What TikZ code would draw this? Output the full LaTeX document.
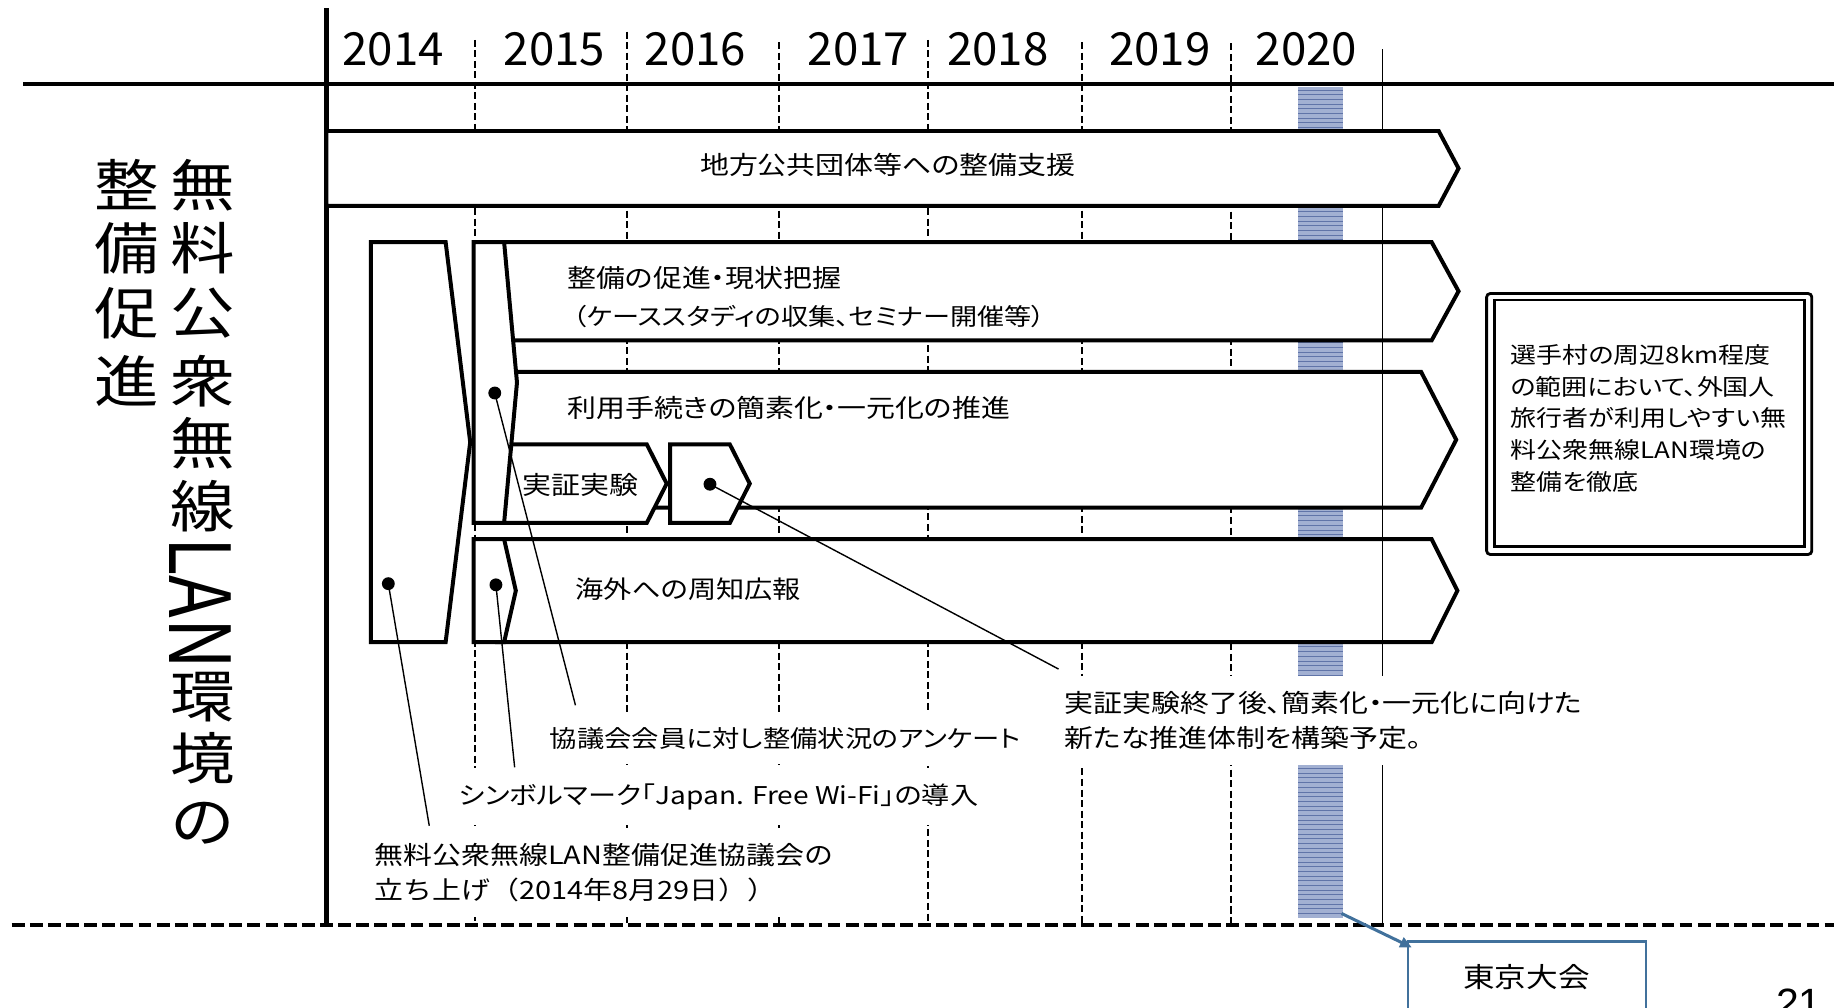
\documentclass[tikz,border=0pt]{standalone}
\usepackage{fontspec}
\setmainfont{Noto Sans CJK JP}[RawFeature=+palt,FakeStretch=1.15]
\newfontfamily\yearfont{Noto Sans CJK JP}
\newfontfamily\titlefont{Noto Sans CJK JP}[FakeStretch=1.15]
\newfontfamily\pagefont{Liberation Sans}
\usetikzlibrary{arrows.meta}
\definecolor{barfill}{RGB}{162,176,210}
\definecolor{barline}{RGB}{96,116,168}
\definecolor{tkblue}{RGB}{65,113,156}
\newcommand\setfs[2]{\fontsize{#1}{#2}\selectfont}
\begin{document}
\begin{tikzpicture}[x=1pt,y=-1pt,
  shp/.style={draw,line width=3.4pt,fill=white,line join=miter},
  body/.style={font=\setfs{21.5}{26},inner sep=0pt},
  note/.style={font=\setfs{21.5}{30},fill=white,inner xsep=3pt,inner ysep=13pt,align=left,anchor=west},
  dotn/.style={circle,fill=black,inner sep=0pt,minimum size=11pt},
  lead/.style={line width=1.2pt},
  yr/.style={font=\yearfont\setfs{39}{39},inner sep=0pt},
  ttl/.style={font=\titlefont\setfs{48}{48},inner sep=0pt},
  vdash/.style={line width=1.3pt,dash pattern=on 6pt off 3pt}]
\useasboundingbox (0,0) rectangle (1568,861);
\clip (0,0) rectangle (1568,861);
% 2020 bar
\fill[barfill] (1110,74) rectangle (1148,785);
\foreach \yy in {77,81,...,783} \draw[barline,line width=0.6pt] (1110,\yy) -- (1148,\yy);
% year separators
\foreach \xx/\yt in {406/34,536/27,666/36,793.5/34,925/36,1052.5/37}
  \draw[vdash] (\xx,\yt) -- (\xx,791);
% frame lines
\draw[line width=3.5pt] (20,72) -- (1568,72);
\draw[line width=3.8pt] (279,7) -- (279,791);
\draw[line width=3.4pt,dash pattern=on 11pt off 4.5pt] (10,791) -- (1568,791);
% shapes
\draw[shp] (317,207) -- (381,207) -- (402,378) -- (381,549) -- (317,549) -- cycle;
\draw[shp] (425,207) -- (1224,207) -- (1247,249) -- (1224,291) -- (425,291) -- cycle;
\draw[shp] (425,318) -- (1215,318) -- (1245,376) -- (1215,434) -- (425,434) -- cycle;
\draw[shp] (425,380) -- (553,380) -- (570,413.5) -- (553,447) -- (425,447) -- cycle;
\draw[shp] (405,207) -- (431,207) -- (442,327) -- (431,447) -- (405,447) -- cycle;
\draw[shp] (573,380) -- (624,380) -- (641,413.5) -- (624,447) -- (573,447) -- cycle;
\draw[shp] (425,461) -- (1224,461) -- (1246,505) -- (1224,549) -- (425,549) -- cycle;
\draw[shp] (405,461) -- (431,461) -- (441,505) -- (431,549) -- (405,549) -- cycle;
% end line
\draw[line width=1.3pt] (1182,42) -- (1182,791);
\draw[shp] (279,112) -- (1230,112) -- (1247,144) -- (1230,176) -- (279,176) -- cycle;
% texts in shapes
\node[body] (t1) at (759,141) {地方公共団体等への整備支援};
\node[body,anchor=west] (t2a) at (485,238) {整備の促進・現状把握};
\node[body,anchor=west,font=\setfs{20.2}{26}] (t2b) at (490,271) {（ケーススタディの収集、セミナー開催等）};
\node[body,anchor=west] (t3) at (485,349) {利用手続きの簡素化・一元化の推進};
\node[body] (t5) at (496,415) {実証実験};
\node[body,anchor=west,font=\setfs{21}{26}] (t4) at (492,504) {海外への周知広報};
% notes
\node[note,font=\setfs{20.3}{30}] (n1) at (467,631) {協議会会員に対し整備状況のアンケート};
\node[note,font=\setfs{20.9}{30}] (n2) at (389,681) {シンボルマーク「Japan. Free Wi-Fi」の導入};
\node[note] (n3) at (317,746) {無料公衆無線LAN整備促進協議会の\\{\titlefont 立ち上げ（2014年8月29日））}};
\node[note] (n4) at (907,616) {実証実験終了後、簡素化・一元化に向けた\\新たな推進体制を構築予定。};
% dots and leaders
\node[dotn] (dB) at (332,499) {};
\node[dotn] (dA) at (423,336) {};
\node[dotn] (dS) at (424,500) {};
\node[dotn] (dP) at (607,414) {};
\coordinate (eB) at (367,706);
\coordinate (eS) at (440,656);
\coordinate (eA) at (492,603);
\coordinate (eP) at (905,572);
\draw[lead] (dB.center) -- (eB);
\draw[lead] (dS.center) -- (eS);
\draw[lead] (dA.center) -- (eA);
\draw[lead] (dP.center) -- (eP);
% right box
\draw[line width=2.4pt,rounded corners=3pt] (1271,251) rectangle (1549,474);
\draw[line width=2.4pt] (1277.5,256.5) rectangle (1543,467.5);
\node[font=\setfs{19.3}{27.1},align=left,anchor=west,inner sep=0pt] (rb) at (1291.5,357.6)
  {選手村の周辺8km程度\\の範囲において、外国人\\旅行者が利用しやすい無\\料公衆無線LAN環境の\\整備を徹底};
% Tokyo box
\node[draw=tkblue,line width=1.8pt,minimum width=203pt,minimum height=70pt,anchor=north west,inner sep=0pt] (tokyo) at (1203,804) {};
\node[font=\setfs{23.5}{23.5},inner sep=0pt] (tokyot) at (1305,835) {東京大会};
\coordinate (barEnd) at (1147,781);
\draw[tkblue,line width=2.6pt,-{Triangle[length=10pt,width=9pt]}] (barEnd) -- ([shift={(4,6)}]tokyo.north west);
\node[font=\pagefont\setfs{35}{35},anchor=base,inner sep=0pt] (pg) at (1538,870) {21};
% years
\foreach \yv/\xx in {2014/336,2015/474,2016/594.5,2017/734,2018/853,2019/991.5,2020/1117}
  \node[yr] (y\yv) at (\xx,42) {\yv};
% title
\foreach \c/\yy [count=\i] in {無/158,料/212,公/268,衆/326,無/379,線/433,環/596,境/648,の/704}
  \node[ttl] (tr\i) at (173.5,\yy) {\c};
\node[rotate=-90,font=\yearfont\setfs{60}{60},inner sep=0pt] (lan) at (171,515.5) {\scalebox{1}[1.2]{LAN}};
\foreach \c/\yy [count=\i] in {整/158,備/212,促/268,進/326}
  \node[ttl] (tl\i) at (108,\yy) {\c};
\end{tikzpicture}
\end{document}
